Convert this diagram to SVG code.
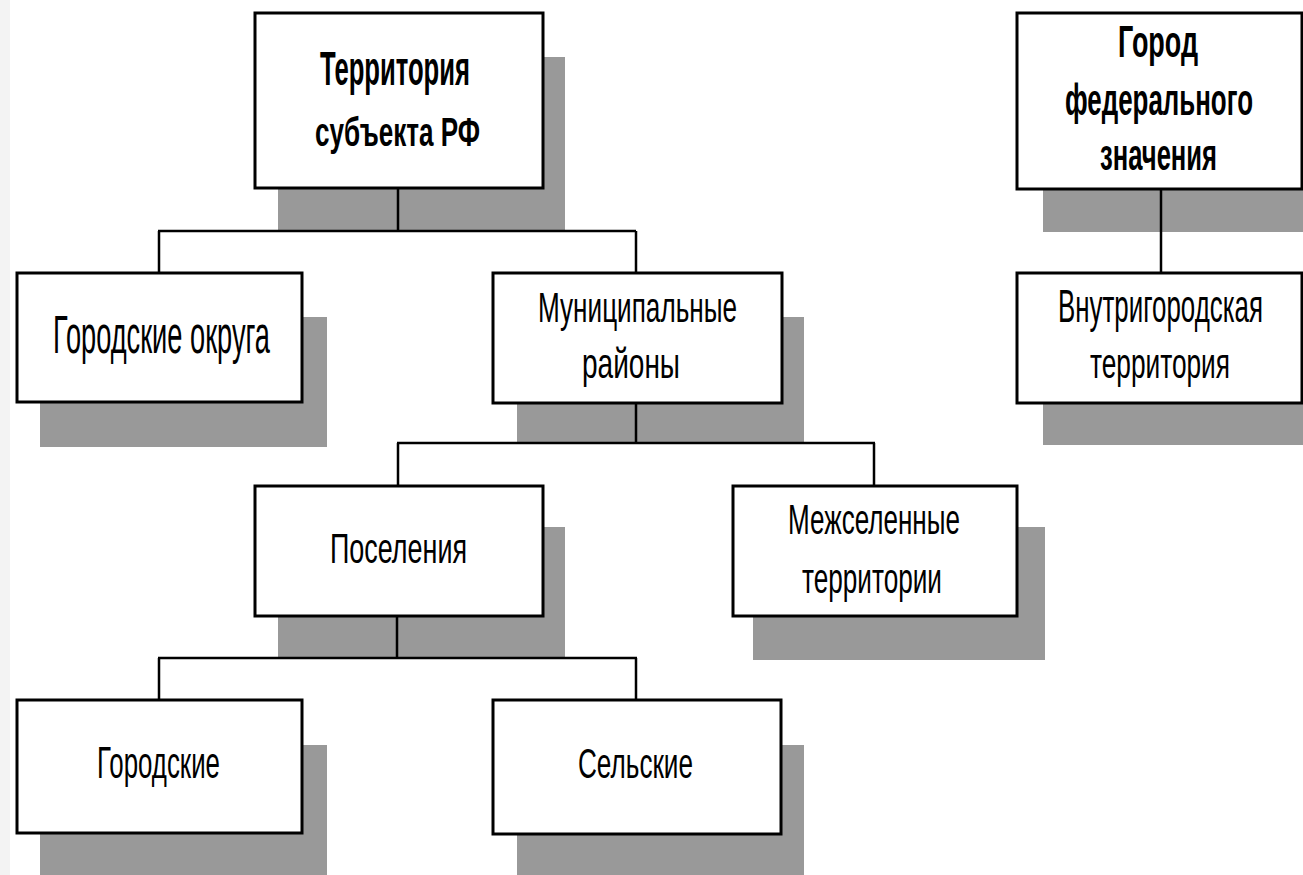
<svg xmlns="http://www.w3.org/2000/svg" width="1303" height="875" viewBox="0 0 1303 875">
<style>
.shadow{fill:#999999;}
.box{fill:#ffffff;stroke:#000000;stroke-width:3;}
.t{font-family:"Liberation Sans",Arial,sans-serif;fill:#000000;}
.b{font-weight:bold;}
.conn{stroke:#000000;stroke-width:2.5;fill:none;}
</style>
<rect x="0" y="0" width="1303" height="875" fill="#ffffff"/>
<rect x="0" y="0" width="10" height="875" fill="#f3f3f3"/>

<g id="node-territoriya">
<rect class="shadow" x="278" y="57" width="287" height="173"/>
<rect class="box" x="255" y="13" width="288" height="175"/>
<text class="t b" transform="translate(320,85) scale(0.55,1)" font-size="48" textLength="272.7" lengthAdjust="spacingAndGlyphs">Территория</text>
<text class="t b" transform="translate(315,146) scale(0.55,1)" font-size="40" textLength="300" lengthAdjust="spacingAndGlyphs">субъекта РФ</text>
</g>

<g id="node-gorod-fed">
<rect class="shadow" x="1043" y="57" width="270" height="175"/>
<rect class="box" x="1017" y="13" width="285" height="176"/>
<text class="t b" transform="translate(1118,57) scale(0.55,1)" font-size="45" textLength="145.5" lengthAdjust="spacingAndGlyphs">Город</text>
<text class="t b" transform="translate(1065,115) scale(0.55,1)" font-size="45" textLength="341.8" lengthAdjust="spacingAndGlyphs">федерального</text>
<text class="t b" transform="translate(1100,170) scale(0.55,1)" font-size="45" textLength="212.7" lengthAdjust="spacingAndGlyphs">значения</text>
</g>

<g id="node-gor-okruga">
<rect class="shadow" x="40" y="317" width="287" height="130"/>
<rect class="box" x="17" y="273" width="285" height="129"/>
<text class="t" transform="translate(53,353) scale(0.55,1)" font-size="54" textLength="394.5" lengthAdjust="spacingAndGlyphs">Городские округа</text>
</g>

<g id="node-mun-rayony">
<rect class="shadow" x="517" y="317" width="287" height="126"/>
<rect class="box" x="493" y="273" width="289" height="130"/>
<text class="t" transform="translate(538,322) scale(0.55,1)" font-size="43" textLength="361.8" lengthAdjust="spacingAndGlyphs">Муниципальные</text>
<text class="t" transform="translate(582,378) scale(0.55,1)" font-size="43" textLength="178.2" lengthAdjust="spacingAndGlyphs">районы</text>
</g>

<g id="node-vnutrigor">
<rect class="shadow" x="1043" y="317" width="270" height="128"/>
<rect class="box" x="1017" y="273" width="285" height="130"/>
<text class="t" transform="translate(1058,322) scale(0.55,1)" font-size="46" textLength="372.7" lengthAdjust="spacingAndGlyphs">Внутригородская</text>
<text class="t" transform="translate(1090,378) scale(0.55,1)" font-size="43" textLength="254.5" lengthAdjust="spacingAndGlyphs">территория</text>
</g>

<g id="node-poseleniya">
<rect class="shadow" x="278" y="527" width="287" height="130"/>
<rect class="box" x="255" y="486" width="288" height="130"/>
<text class="t" transform="translate(330,563) scale(0.55,1)" font-size="43" textLength="249.1" lengthAdjust="spacingAndGlyphs">Поселения</text>
</g>

<g id="node-mezhselennye">
<rect class="shadow" x="753" y="527" width="292" height="133"/>
<rect class="box" x="733" y="486" width="284" height="130"/>
<text class="t" transform="translate(788,534) scale(0.55,1)" font-size="43" textLength="312.7" lengthAdjust="spacingAndGlyphs">Межселенные</text>
<text class="t" transform="translate(802,593) scale(0.55,1)" font-size="43" textLength="254.5" lengthAdjust="spacingAndGlyphs">территории</text>
</g>

<g id="node-gorodskie">
<rect class="shadow" x="40" y="745" width="287" height="130"/>
<rect class="box" x="17" y="700" width="285" height="133"/>
<text class="t" transform="translate(97,778) scale(0.55,1)" font-size="45" textLength="223.6" lengthAdjust="spacingAndGlyphs">Городские</text>
</g>

<g id="node-selskie">
<rect class="shadow" x="517" y="745" width="287" height="130"/>
<rect class="box" x="493" y="700" width="288" height="134"/>
<text class="t" transform="translate(578,778) scale(0.55,1)" font-size="43" textLength="209.1" lengthAdjust="spacingAndGlyphs">Сельские</text>
</g>

<g id="connectors">
<path class="conn" d="M398 188 V231 M158 231 H636 M159 231 V273 M636 231 V273"/>
<path class="conn" d="M1161 189 V273"/>
<path class="conn" d="M636 403 V443 M397 443 H875 M398 443 V486 M874 443 V486"/>
<path class="conn" d="M397 616 V658 M158 658 H637 M159 658 V700 M636 658 V700"/>
</g>
</svg>
